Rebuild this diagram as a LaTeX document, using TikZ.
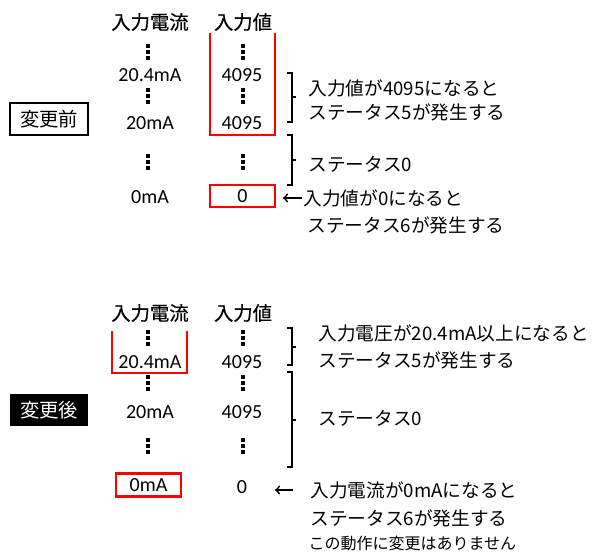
\documentclass[tikz,border=0pt]{standalone}
\usepackage{fontspec}
\setmainfont{Noto Sans CJK JP}
\newfontfamily\zahlfont{Carlito}
\newfontfamily\kopffont[FakeBold=0.5]{Noto Sans CJK JP}

\begin{document}
\begin{tikzpicture}[x=0.75pt,y=-0.75pt,
  kopf/.style={font=\kopffont\fontsize{14.5}{17}\selectfont},
  wert/.style={font=\zahlfont\fontsize{15}{17}\selectfont},
  txt/.style={anchor=west,inner sep=1pt,font=\fontsize{14}{16}\selectfont},
  rot/.style={draw=red,line width=2.1pt},
  klammer/.style={line width=0.8pt},
  etikett/.style={minimum width=58.5pt,minimum height=24pt,inner sep=0pt,line width=0.9pt,font=\fontsize{14.5}{17}\selectfont}]
\useasboundingbox (0,0) rectangle (600,551);

%vorher
\node[etikett,draw] (vor) at (49,119) {変更前};
\node[kopf] (kA) at (150,22) {入力電流};
\node[kopf] (kB) at (243,22) {入力値};
\node[wert] (a1) at (150,75) {20.4mA};
\node[wert] (a2) at (150,123) {20mA};
\node[wert] (a3) at (150,197) {0mA};
\node[wert] (b1) at (242,75) {4095};
\node[wert] (b2) at (242,123) {4095};
\node[wert,rot,minimum width=48.75pt,minimum height=16.5pt,inner sep=0pt] (b3) at (242.5,196) {0};
\draw[rot] (210,33) -- (210,135) -- (275,135) -- (275,33);

\node[txt] (t5a) at (307,88) {入力値が4095になると};
\node[txt] (t5b) at (307,112) {ステータス5が発生する};
\node[txt] (t0a) at (307,164) {ステータス0};
\node[txt] (t6a) at (302,198) {入力値が0になると};
\node[txt] (t6b) at (306,225) {ステータス6が発生する};

%nachher
\node[etikett,fill=black,text=white] (nach) at (49,410) {変更後};
\node[kopf] (kC) at (150,313) {入力電流};
\node[kopf] (kD) at (243,313) {入力値};
\node[wert] (c1) at (150,362) {20.4mA};
\node[wert] (c2) at (150,412) {20mA};
\node[wert,rot,minimum width=48.75pt,minimum height=17pt,inner sep=0pt] (c3) at (148.5,485) {0mA};
\node[wert] (d1) at (242,362) {4095};
\node[wert] (d2) at (242,412) {4095};
\node[wert] (d3) at (242,487) {0};
\draw[rot] (112,331) -- (112,373) -- (187,373) -- (187,331);

\node[txt] (t5c) at (317,333) {入力電圧が20.4mA以上になると};
\node[txt] (t5d) at (317,360) {ステータス5が発生する};
\node[txt] (t0b) at (317,418) {ステータス0};
\node[txt] (t6c) at (309,490) {入力電流が0mAになると};
\node[txt] (t6d) at (309,518) {ステータス6が発生する};
\node[txt,font=\fontsize{12}{14}\selectfont] (hin) at (307,543) {この動作に変更はありません};

%Punkte
\foreach \x in {148,243}
  \foreach \y in {52,96,162,338,383,446}
    \foreach \d in {-6,0,6}
      \fill (\x-1.7,\y+\d-1.7) rectangle ++(3.4,3.4);

%Klammern
\foreach \ya/\yb/\ym in {73/122/97, 135/185/160, 328/365/347, 372/467/420}
{
  \draw[klammer] (287,\ya) -- (292,\ya) -- (292,\yb) -- (287,\yb);
  \draw[klammer] (292,\ym) -- (296,\ym);
}

%Pfeile
\coordinate (P1) at (283,198);
\coordinate (P2) at (275,490);
\draw[->,line width=1.4pt] (t6a.west) -- (P1);
\draw[->,line width=1.4pt,shorten <=12pt] (t6c.west) -- (P2);
\end{tikzpicture}
\end{document}
